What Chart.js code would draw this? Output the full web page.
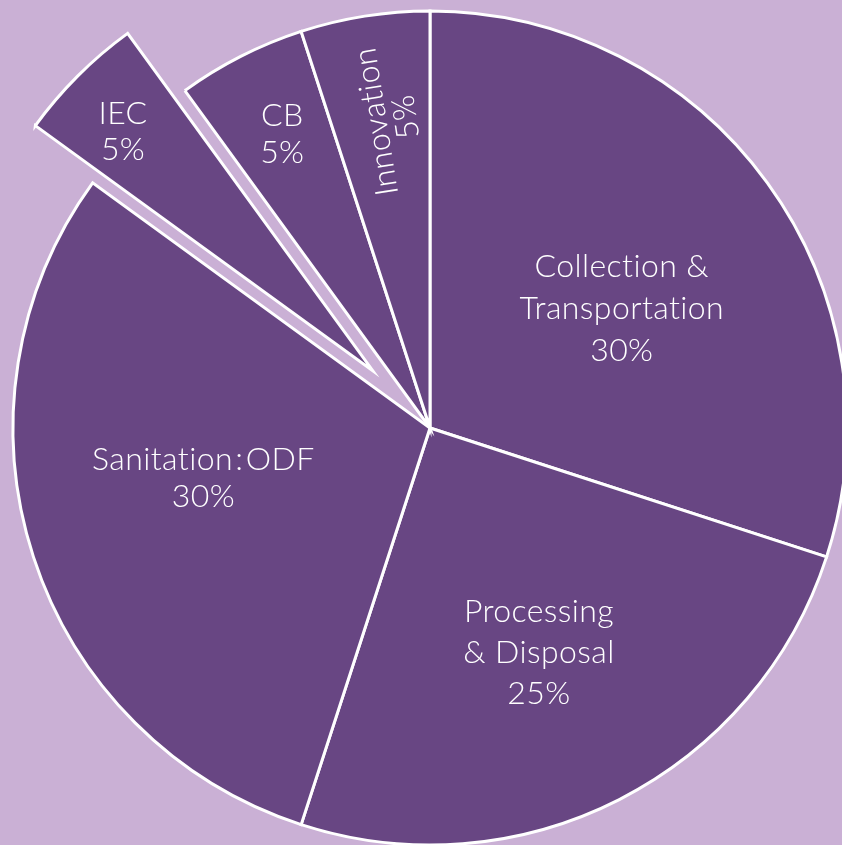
<!DOCTYPE html>
<html>
<head>
<meta charset="utf-8">
<script src="https://cdn.jsdelivr.net/npm/chart.js@4/dist/chart.umd.min.js"></script>
<style>
    html, body { margin: 0; padding: 0; background: #cab0d5; overflow: hidden; }
    canvas { display: block; }
</style>
</head>
<body>
<canvas id="budgetPie" width="842" height="845"></canvas>
<script>
// share of budget per component, clockwise from 12 o'clock
let categories = ["Collection & Transportation", "Processing & Disposal", "Sanitation:ODF", "IEC", "CB", "Innovation"];
let shares = [30, 25, 30, 5, 5, 5];
let labelLines = [["Collection &", "Transportation"], ["Processing", "& Disposal"], ["Sanitation\u200a:\u200aODF"], ["IEC"], ["CB"], ["Innovation"]];

// how far each slice is pulled out of the pie (px)
const explode = [0, 0, 0, 81, 0, 0];
// label placement: fraction of radius, angle nudge (deg), line height, rotation (deg)
const labelPlace = [
    [0.543, 3.9, 42, 0],
    [0.596, 1.0, 41, 0],
    [0.556, 5.8, 37, 0],
    [0.831, -1.1, 36, 0],
    [0.791, 0.4, 37, 0],
    [0.746, 1.6, 30, -99]
];
const fontSize = 32;

const explodePlugin = {
    id: 'explode',
    afterDatasetUpdate(chart, args) {
        const area = chart.chartArea;
        const cx = (area.left + area.right) / 2;
        const cy = (area.top + area.bottom) / 2;
        args.meta.data.forEach((arc, i) => {
            const d = explode[i] || 0;
            const mid = (arc.startAngle + arc.endAngle) / 2;
            arc.x = cx + Math.cos(mid) * d;
            arc.y = cy + Math.sin(mid) * d;
        });
    }
};

const labelPlugin = {
    id: 'sliceLabels',
    afterDatasetsDraw(chart) {
        const ctx = chart.ctx;
        const meta = chart.getDatasetMeta(0);
        ctx.save();
        ctx.fillStyle = '#ffffff';
        ctx.font = '300 ' + fontSize + 'px Lato, "Open Sans", sans-serif';
        ctx.letterSpacing = '0.4px';
        ctx.textAlign = 'center';
        ctx.textBaseline = 'alphabetic';
        meta.data.forEach((arc, i) => {
            const [frac, nudge, lh, rot] = labelPlace[i];
            const mid = (arc.startAngle + arc.endAngle) / 2 + nudge * Math.PI / 180;
            const r = arc.outerRadius * frac;
            const x = arc.x + Math.cos(mid) * r;
            const y = arc.y + Math.sin(mid) * r;
            const lines = labelLines[i].concat([shares[i] + '%']);
            ctx.save();
            ctx.translate(x, y);
            ctx.rotate(rot * Math.PI / 180);
            lines.forEach((line, j) => {
                const ly = (j - (lines.length - 1) / 2) * lh + fontSize * 0.36;
                ctx.fillText(line, 0, ly);
            });
            ctx.restore();
        });
        ctx.restore();
    }
};

new Chart(document.getElementById('budgetPie').getContext('2d'), {
    type: 'pie',
    data: {
        labels: categories,
        datasets: [{
            data: shares,
            backgroundColor: '#684683',
            borderColor: '#ffffff',
            borderWidth: 3,
            borderJoinStyle: 'miter'
        }]
    },
    options: {
        responsive: false,
        animation: false,
        radius: 417,
        layout: {
            padding: { left: 18, top: 11, right: 0, bottom: 0 }
        },
        plugins: {
            legend: { display: false },
            tooltip: { enabled: false }
        },
        events: []
    },
    plugins: [explodePlugin, labelPlugin]
});
</script>
</body>
</html>
